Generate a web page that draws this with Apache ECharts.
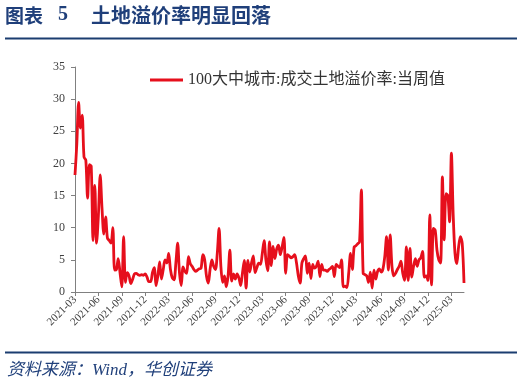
<!DOCTYPE html>
<html>
<head>
<meta charset="utf-8">
<script src="https://cdn.jsdelivr.net/npm/echarts@6/dist/echarts.min.js"></script>
<style>
html,body{margin:0;padding:0;background:#fff;}
#chart{width:524px;height:387px;}
</style>
</head>
<body>
<div id="chart"></div>
<script>
// ---- data ----
const titleLabel = '图表';
const titleNumber = '5';
const titleText = '土地溢价率明显回落';
const sourceText = '资料来源：Wind，华创证券';
const seriesName = '100大中城市:成交土地溢价率:当周值';
const startDate = '2021-03-05'; // weekly observations
const premiumRate = [
  18.2, 23, 29.5, 25.5, 27.5, 21, 20.5, 14.6, 19.8, 19.6,
  8, 16.6, 7.6, 12, 18.2, 13, 9, 11.7, 8.4, 8,
  7.6, 10, 3.4, 3.5, 5.2, 3, 0.8, 8.6, 1.5, 3,
  2.5, 1.3, 2, 2.8, 2.9, 2.7, 2.6, 2.7, 2.6, 2.8,
  2.3, 1.6, 1.6, 3, 3.8, 1, 2.5, 4.7, 2, 3.5,
  5, 4.5, 6, 3.5, 2.2, 1.9, 4.5, 7.6, 3, 1,
  3.9, 3.2, 2.9, 5.5, 4.4, 4, 3.5, 3.2, 3.4, 3.6,
  3.7, 5.8, 5, 2.5, 1.4, 3.5, 5, 4, 3.5, 6,
  9.9, 4, 1.5, 2.5, 0.8, 2.5, 6.5, 1.7, 2.8, 2,
  2.8, 2.2, 1, 3, 4.9, 0.6, 4.9, 3.1, 4.5, 5.6,
  3, 3.8, 4.5, 4.3, 6, 8, 5, 3.3, 7.8, 4.1,
  7.1, 5.2, 6.7, 7.3, 5.8, 7, 8.5, 2.9, 5.8, 5.6,
  5.3, 5.5, 5.8, 4.5, 2.5, 1.4, 4.5, 5.2, 5.6, 2.9,
  4.5, 2.1, 4.3, 3.7, 4, 4.8, 2.4, 4.3, 3.4, 3.4,
  3.2, 3.5, 3.7, 4, 2.4, 4.3, 4, 3.8, 5, 0.8,
  0.9, 0.7, 3, 6, 3.5, 7, 7.2, 7.5, 7.8, 15.9,
  2.9, 2.7, 2.5, 1.5, 3.1, 0.6, 3.4, 2, 3.2, 3.6,
  3.1, 3.6, 5.5, 8.6, 3.4, 8.9, 4, 2.5, 2.9, 3.5,
  4, 4.8, 2.9, 1.8, 7, 1.8, 6.8, 2.3, 4, 5.2,
  4, 5, 5.3, 6.3, 2.3, 2.5, 1.8, 12, 1.1, 9.9,
  9.6, 6.5, 5, 4.5, 17.9, 8.1, 15.3, 15, 10.9, 21.6,
  12, 6, 4.4, 7, 8.6, 7.6, 1.4
];
const quarterMonths = [3, 6, 9, 12];
const yTicks = { min: 0, max: 35, interval: 5 };

// weekly category dates
function pad(n){ return (n < 10 ? '0' : '') + n; }
const weekDates = [];
{
  const d0 = new Date(startDate + 'T00:00:00Z');
  for (let i = 0; i < premiumRate.length; i++) {
    const d = new Date(d0.getTime() + i * 7 * 86400000);
    weekDates.push(d.getUTCFullYear() + '-' + pad(d.getUTCMonth() + 1) + '-' + pad(d.getUTCDate()));
  }
}
function isQuarterStart(index, value) {
  const v = weekDates[index];
  const m = parseInt(v.slice(5, 7), 10);
  const day = parseInt(v.slice(8, 10), 10);
  return quarterMonths.indexOf(m) >= 0 && day <= 7;
}

const serif = '"Liberation Serif", "Times New Roman", "Noto Sans CJK SC", serif';
const navy = '#1f3f7a';

const chart = echarts.init(document.getElementById('chart'), null, { renderer: 'canvas' });
chart.setOption({
  animation: false,
  backgroundColor: '#ffffff',
  grid: { left: 75, right: 60, top: 67, bottom: 95, containLabel: false },
  legend: {
    left: 145, top: 67,
    icon: 'rect',
    itemWidth: 33, itemHeight: 3, itemGap: 10,
    textStyle: { fontFamily: serif, fontSize: 16, color: '#333333' },
    data: [seriesName]
  },
  xAxis: {
    type: 'category',
    data: weekDates,
    boundaryGap: false,
    axisLine: { show: true, lineStyle: { color: '#808080', width: 1 } },
    axisTick: { show: true, interval: isQuarterStart, length: 4, lineStyle: { color: '#808080' } },
    axisLabel: {
      interval: isQuarterStart,
      rotate: 45,
      margin: 6,
      fontFamily: serif,
      fontSize: 11,
      color: '#404040',
      formatter: v => v.slice(0, 7)
    },
    splitLine: { show: false }
  },
  yAxis: {
    type: 'value',
    min: yTicks.min, max: yTicks.max, interval: yTicks.interval,
    axisLine: { show: true, lineStyle: { color: '#808080', width: 1 } },
    axisTick: { show: true, length: 4, lineStyle: { color: '#808080' } },
    axisLabel: { fontFamily: serif, fontSize: 12, color: '#404040', margin: 10 },
    splitLine: { show: false }
  },
  series: [{
    name: seriesName,
    type: 'line',
    data: premiumRate,
    symbol: 'none',
    smooth: 0.3,
    lineStyle: { color: '#e60f1c', width: 2.8 },
    itemStyle: { color: '#e60f1c' }
  }],
  graphic: [
    { type: 'text', left: 5, top: 6, style: { text: titleLabel, font: 'bold 19px "Noto Sans CJK SC"', fill: navy } },
    { type: 'text', left: 58, top: 5, style: { text: titleNumber, font: 'bold 20px "Liberation Serif"', fill: navy } },
    { type: 'text', left: 91, top: 5, style: { text: titleText, font: 'bold 20px "Noto Sans CJK SC"', fill: navy } },
    { type: 'line', shape: { x1: 5, y1: 38.5, x2: 517, y2: 38.5 }, style: { stroke: '#1b3d70', lineWidth: 2 } },
    { type: 'line', shape: { x1: 5, y1: 352.5, x2: 517, y2: 352.5 }, style: { stroke: '#1b3d70', lineWidth: 2 } },
    { type: 'text', left: 7, top: 362, style: { text: sourceText, font: 'italic 17px "Liberation Serif", "Noto Sans CJK SC"', fill: navy } }
  ]
});
</script>
</body>
</html>
